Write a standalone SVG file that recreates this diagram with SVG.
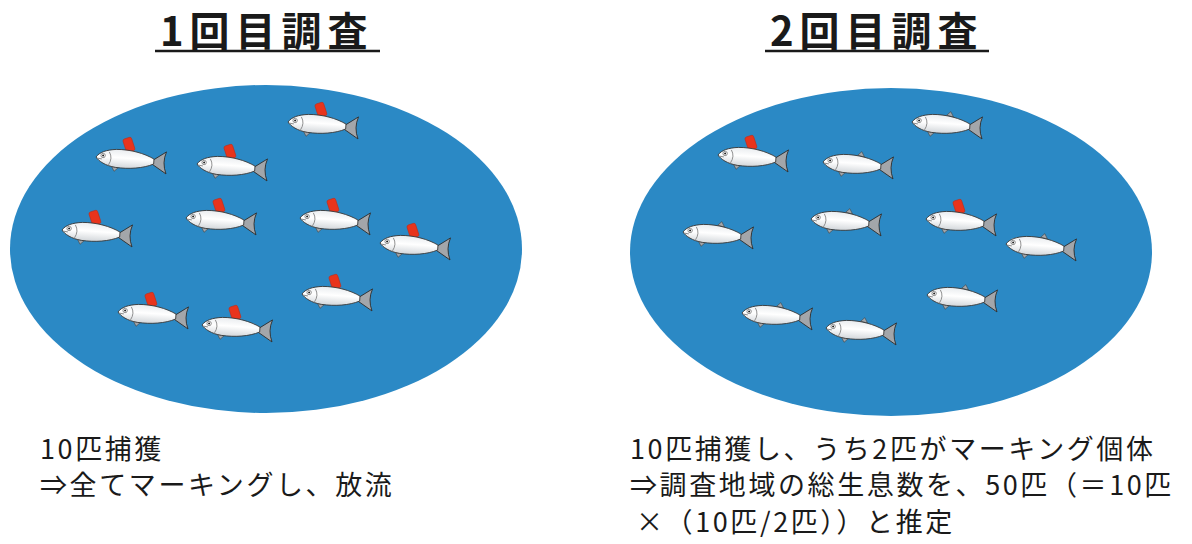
<svg xmlns="http://www.w3.org/2000/svg" xmlns:xlink="http://www.w3.org/1999/xlink" width="1192" height="544" viewBox="0 0 1192 544">
  <style>
    .title { font-family: "Noto Sans CJK JP", "Noto Sans", sans-serif; font-size: 40px; font-weight: 700; fill: #1a1a1a; letter-spacing: 6px; }
    .rule { stroke: #1a1a1a; stroke-width: 2.5; }
    .pond { fill: #2b89c5; }
    .caption { font-family: "Noto Sans CJK JP", "Noto Sans", sans-serif; font-size: 27px; fill: #1a1a1a; letter-spacing: 2.6px; }
    .body { fill: url(#scale); stroke: #3a3a3a; stroke-width: 0.9; }
    .tail { fill: #a3a6aa; stroke: #2f2f2f; stroke-width: 0.9; stroke-linejoin: round; }
    .fin { fill: #a3a6aa; stroke: #444; stroke-width: 0.6; }
    .line { fill: none; stroke: #7a7a7a; stroke-width: 0.8; }
    .tag { fill: #e8341c; stroke: #c42a15; stroke-width: 0.6; }
  </style>
  <defs>
    <linearGradient id="scale" x1="0" y1="0" x2="0" y2="1">
      <stop offset="0" stop-color="#e9ecef"/>
      <stop offset="0.45" stop-color="#ffffff"/>
      <stop offset="1" stop-color="#d2d6da"/>
    </linearGradient>
    <!-- fish drawn with the head tip at the origin, facing left, 72px long -->
    <g id="fish">
      <path class="tail" d="M56,0 L70,-10 Q66,1 71,12 L56,3 Z"/>
      <path class="fin" d="M16,8 L19,13 L23,9 Z"/>
      <path class="body" d="M0,0 C3,-5 10,-8 20,-9 C34,-10 48,-7 58,-2 L58,3 C48,8 34,10 20,9 C10,8 3,4 0,0 Z"/>
      <path class="line" d="M1,1 L6,1.5"/>
      <path class="line" d="M13,-6 Q17,0 13,7"/>
      <circle cx="7" cy="-2" r="2.2" fill="#ffffff" stroke="#555" stroke-width="0.6"/>
      <circle cx="7" cy="-2" r="1" fill="#222"/>
    </g>
    <!-- red marking tag on the back -->
    <g id="tag">
      <path d="M33,-9 L36,-4 L39,-8 Z" fill="#f0d9c8"/>
      <rect class="tag" x="-4.5" y="-15" width="9" height="14" rx="2" transform="translate(35,-7) rotate(-22)"/>
    </g>
    <!-- small dorsal fin for unmarked fish -->
    <path id="dorsal" class="fin" d="M34,-9 L38,-13 L41,-8 Z"/>
  </defs>

  <rect width="1192" height="544" fill="#ffffff"/>

  <!-- first survey -->
  <g id="title-1">
    <text class="title" x="160" y="46">1回目調査</text>
    <line class="rule" x1="155" y1="51" x2="380" y2="51"/>
  </g>

  <g id="pond-1">
    <ellipse class="pond" cx="266" cy="249" rx="256" ry="164"/>
    <g id="fish-1-1" transform="translate(288,122) rotate(4)"><use href="#tag"/><use href="#fish"/></g>
    <g id="fish-1-2" transform="translate(96,157) rotate(4)"><use href="#tag"/><use href="#fish"/></g>
    <g id="fish-1-3" transform="translate(197,164) rotate(4)"><use href="#tag"/><use href="#fish"/></g>
    <g id="fish-1-4" transform="translate(62,230) rotate(4)"><use href="#tag"/><use href="#fish"/></g>
    <g id="fish-1-5" transform="translate(186,218) rotate(4)"><use href="#tag"/><use href="#fish"/></g>
    <g id="fish-1-6" transform="translate(300,218) rotate(4)"><use href="#tag"/><use href="#fish"/></g>
    <g id="fish-1-7" transform="translate(380,243) rotate(4)"><use href="#tag"/><use href="#fish"/></g>
    <g id="fish-1-8" transform="translate(302,294) rotate(4)"><use href="#tag"/><use href="#fish"/></g>
    <g id="fish-1-9" transform="translate(118,312) rotate(4)"><use href="#tag"/><use href="#fish"/></g>
    <g id="fish-1-10" transform="translate(202,325) rotate(4)"><use href="#tag"/><use href="#fish"/></g>
  </g>

  <g id="caption-1">
    <text class="caption" x="40" y="459">10匹捕獲</text>
    <text class="caption" x="40" y="495">⇒全てマーキングし、放流</text>
  </g>

  <!-- second survey -->
  <g id="title-2">
    <text class="title" x="770" y="46">2回目調査</text>
    <line class="rule" x1="765" y1="51" x2="989" y2="51"/>
  </g>

  <g id="pond-2">
    <ellipse class="pond" cx="891" cy="252" rx="261" ry="164"/>
    <g id="fish-2-1" transform="translate(912,122) rotate(4)"><use href="#dorsal"/><use href="#fish"/></g>
    <g id="fish-2-2" transform="translate(718,155) rotate(4)"><use href="#tag"/><use href="#fish"/></g>
    <g id="fish-2-3" transform="translate(823,162) rotate(4)"><use href="#dorsal"/><use href="#fish"/></g>
    <g id="fish-2-4" transform="translate(683,232) rotate(4)"><use href="#dorsal"/><use href="#fish"/></g>
    <g id="fish-2-5" transform="translate(811,219) rotate(4)"><use href="#dorsal"/><use href="#fish"/></g>
    <g id="fish-2-6" transform="translate(926,219) rotate(4)"><use href="#tag"/><use href="#fish"/></g>
    <g id="fish-2-7" transform="translate(1006,244) rotate(4)"><use href="#dorsal"/><use href="#fish"/></g>
    <g id="fish-2-8" transform="translate(927,295) rotate(4)"><use href="#dorsal"/><use href="#fish"/></g>
    <g id="fish-2-9" transform="translate(742,313) rotate(4)"><use href="#dorsal"/><use href="#fish"/></g>
    <g id="fish-2-10" transform="translate(826,328) rotate(4)"><use href="#dorsal"/><use href="#fish"/></g>
  </g>

  <g id="caption-2">
    <text class="caption" x="630" y="459">10匹捕獲し、うち2匹がマーキング個体</text>
    <text class="caption" x="630" y="495">⇒調査地域の総生息数を、50匹（＝10匹</text>
    <text class="caption" x="636" y="532">×（10匹/2匹））と推定</text>
  </g>
</svg>
